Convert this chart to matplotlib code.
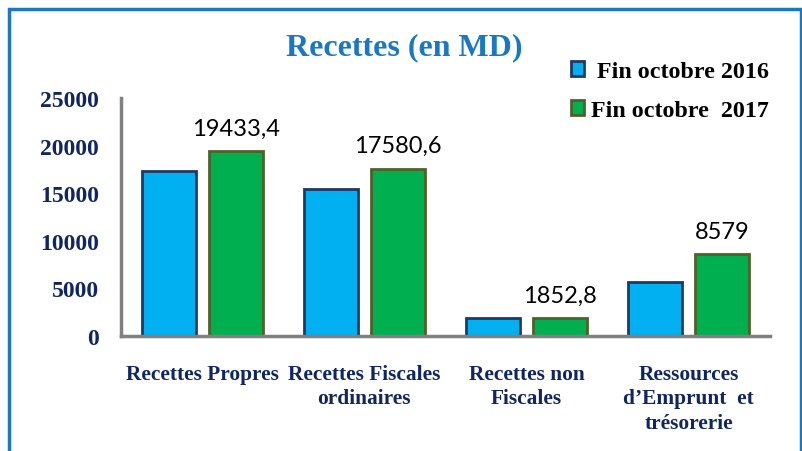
import matplotlib.pyplot as plt
import numpy as np
from matplotlib.patches import Rectangle

# donnees
categories = ['Recettes Propres', 'Recettes Fiscales\nordinaires',
              'Recettes non\nFiscales', 'Ressources\nd\u2019Emprunt  et\ntr\u00e9sorerie']
fin_2016 = [17350, 15450, 1920, 5640]
fin_2017 = [19433.4, 17580.6, 1852.8, 8579]
labels_2017 = ['19433,4', '17580,6', '1852,8', '8579']
yticks = [0, 5000, 10000, 15000, 20000, 25000]

navy = '#0F2660'
serif = 'Liberation Serif'

fig = plt.figure(figsize=(8.03, 4.52), dpi=100)
ax = fig.add_axes([0.1507, 0.2544, 0.808, 0.5266])

x = np.arange(len(categories))
w = 0.333
off = 0.207
ax.bar(x - off, fin_2016, w, color='#00B0F0', edgecolor='#1F3864', linewidth=2,
       label=' Fin octobre 2016')
ax.bar(x + off, fin_2017, w, color='#00B050', edgecolor='#4F6228', linewidth=2,
       label='Fin octobre  2017')

for xi, v, t in zip(x, fin_2017, labels_2017):
    ax.text(xi + off, v + 1300, t, ha='center', va='bottom', fontsize=17,
            family='Lato', color='black')

ax.set_xlim(-0.5, 3.5)
ax.set_ylim(0, 25000)
ax.set_yticks(yticks)
ax.set_yticklabels([str(t) for t in yticks], fontsize=17, family=serif,
                   fontweight='bold', color=navy)
ax.set_xticks(x)
ax.set_xticklabels(categories, fontsize=15.4, family=serif, fontweight='bold',
                   color=navy, linespacing=1.3, va='top')
ax.tick_params(axis='both', length=0)
ax.tick_params(axis='x', pad=20)
ax.tick_params(axis='y', pad=16)

for s in ['top', 'right']:
    ax.spines[s].set_visible(False)
for s in ['left', 'bottom']:
    ax.spines[s].set_color('#808080')
    ax.spines[s].set_linewidth(2.5)

fig.text(0.504, 0.895, 'Recettes (en MD)', ha='center', va='center',
         fontsize=23, family=serif, fontweight='bold', color='#1A78C2')

leg = fig.legend(loc='upper left', bbox_to_anchor=(0.684, 0.911), frameon=False,
                 prop={'family': serif, 'weight': 'bold', 'size': 17.3},
                 handlelength=0.55, handleheight=0.55, handletextpad=0.3,
                 labelspacing=0.75)

# cadre bleu
fig.patches.append(Rectangle((0.0115, -0.05), 0.9855, 1.027, transform=fig.transFigure,
                             fill=False, edgecolor='#1A78C2', linewidth=2.5))

fig.savefig('out.png', dpi=100)
